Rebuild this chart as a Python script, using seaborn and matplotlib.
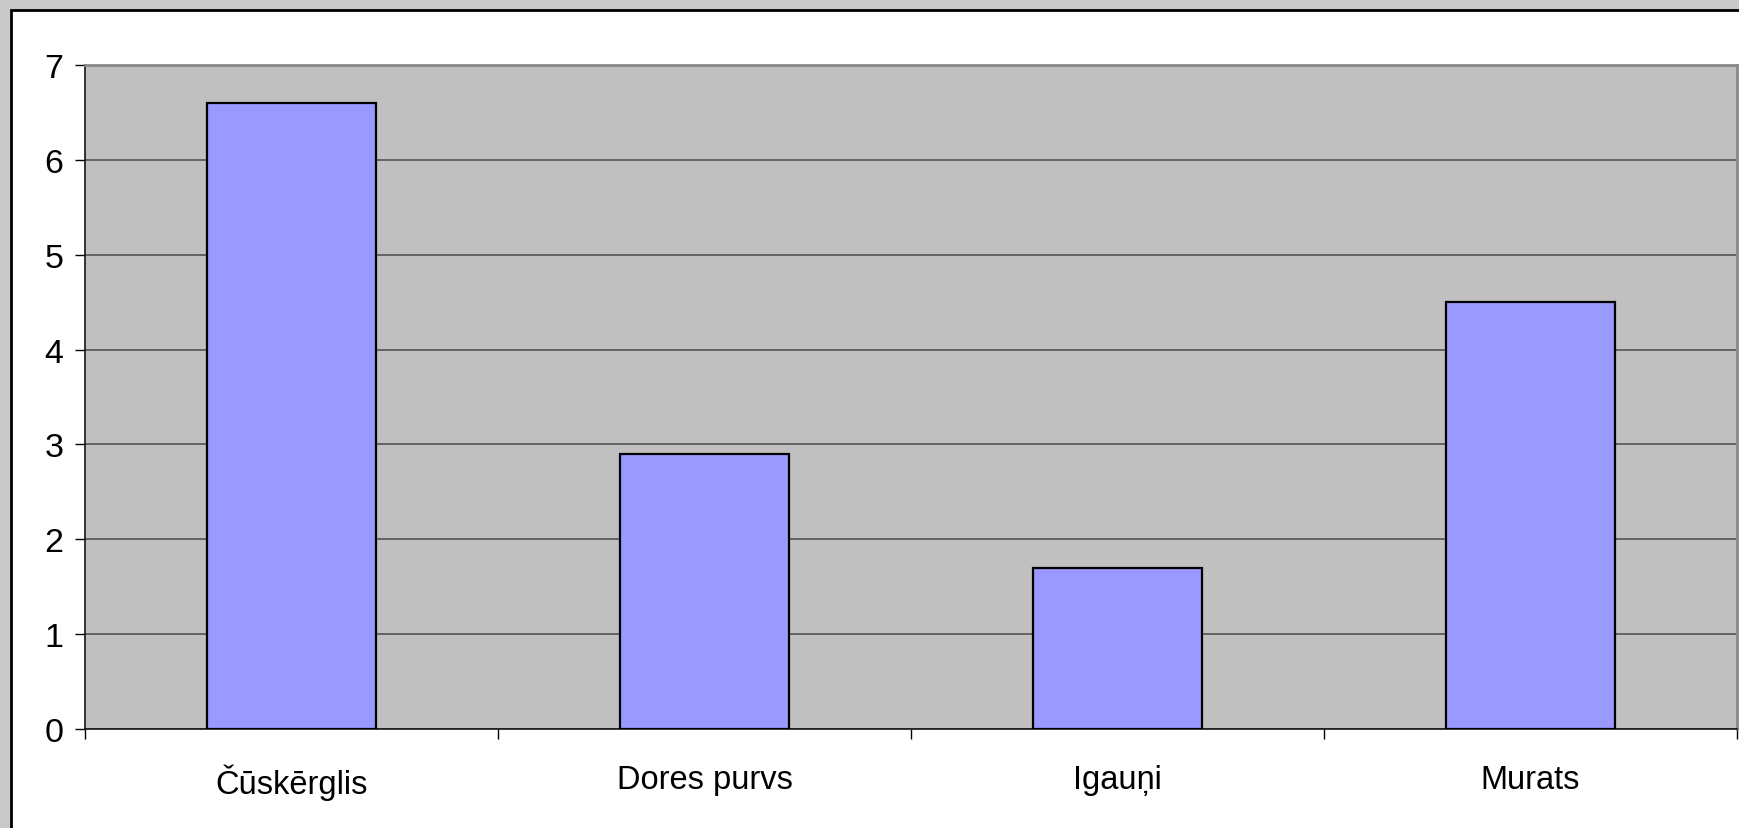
import matplotlib
matplotlib.use("Agg")
import matplotlib.pyplot as plt
import seaborn as sns
import pandas as pd
from matplotlib.patches import Rectangle
from matplotlib.ticker import FixedLocator, NullFormatter

# data
places = ["Čūskērglis", "Dores purvs", "Igauņi", "Murats"]
values = [6.6, 2.9, 1.7, 4.5]
y_ticks = [0, 1, 2, 3, 4, 5, 6, 7]

df = pd.DataFrame({"place": places, "value": values})

sns.set_theme(style="white")
plt.rcParams['font.family'] = ['Liberation Sans', 'DejaVu Sans']
plt.rcParams['text.color'] = 'black'

W, H = 1740, 829
fig = plt.figure(figsize=(W / 100, H / 100), dpi=100, facecolor="#c9c9c9")

# white panel with black border on top/left
fig.patches.append(Rectangle((11 / W, -0.05), 1.1, 1 - 11 / H + 0.05,
                             transform=fig.transFigure, facecolor="white",
                             edgecolor="black", linewidth=2, zorder=-10))

ax = fig.add_axes([85 / W, (H - 730) / H, (1737 - 85) / W, (730 - 66) / H])
ax.set_facecolor("#c0c0c0")

sns.barplot(data=df, x="place", y="value", color="#9999ff", saturation=1,
            edgecolor="black", linewidth=1.6, width=0.41, ax=ax, zorder=3)

ax.set_ylim(0, 7)
ax.set_xlim(-0.5, len(places) - 0.5)
ax.set_yticks(y_ticks)
ax.yaxis.grid(True, color="#4a4a4a", linewidth=1.1, zorder=1)
ax.set_axisbelow(True)

ax.set_xlabel("")
ax.set_ylabel("")

# category boundaries as ticks
ax.xaxis.set_minor_locator(FixedLocator([i - 0.5 for i in range(len(places) + 1)]))
ax.xaxis.set_minor_formatter(NullFormatter())
ax.tick_params(axis="x", which="major", length=0, pad=25, labelsize=23.5, labelcolor="black")
ax.tick_params(axis="x", which="minor", length=7.5, width=1, color="black", direction="out", bottom=True)
ax.tick_params(axis="y", length=7.5, width=1, color="black", pad=8, labelsize=24.5,
               labelcolor="black", left=True, direction="out")

for side in ["left", "bottom"]:
    ax.spines[side].set_color("#151515")
    ax.spines[side].set_linewidth(1.2)
for side in ["top", "right"]:
    ax.spines[side].set_color("#8a8a8a")
    ax.spines[side].set_linewidth(2)

fig.savefig("out.png", dpi=100, facecolor=fig.get_facecolor())
